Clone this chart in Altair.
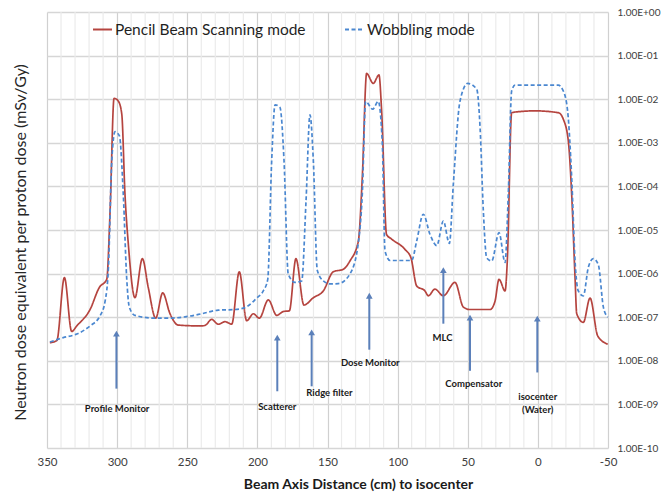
import altair as alt
import pandas as pd

# ---------------- data ----------------
pbs_x = [348, 343, 337.6, 332.4, 328.8, 319.3, 312.7, 307.4, 305, 302.2, 299.2, 296.7,
         294.4, 292, 287.3, 282, 277.8, 272.5, 267.5, 262.3, 256.4, 239.7, 236.9, 232.6,
         227.9, 223.1, 218.3, 212.9, 207.6, 202.9, 198.6, 192.2, 186.2, 181.5, 177.2,
         172.5, 166.8, 160.1, 153, 145.9, 138.7, 134, 128, 125.2, 122.1, 117.4, 113.3,
         111.4, 107.9, 104.3, 94.8, 90.5, 86.4, 80.5, 78.1, 73.4, 67.4, 59.1, 53.1, 48.4,
         34.1, 30.6, 27.7, 23.4, 21.8, 18.7, 12.8, 2.1, -14.6, -18.1, -21.7, -24.1, -26.5,
         -27.7, -32.4, -37.2, -42.7, -49.8]
pbs_y = [2.6e-8, 2.9e-8, 8.1e-7, 4.7e-8, 6.3e-8, 1.5e-7, 4.8e-7, 7.4e-7, 2.8e-5, 1.05e-2,
         9.1e-3, 4.6e-3, 6.6e-5, 4.7e-6, 2.8e-7, 2.2e-6, 4.8e-7, 9.5e-8, 3.6e-7, 1.2e-7,
         6.6e-8, 6.3e-8, 6.6e-8, 8.9e-8, 6.9e-8, 7.9e-8, 6.9e-8, 1.1e-6, 8.3e-8, 1.2e-7,
         9.5e-8, 2.5e-7, 1.1e-7, 1.35e-7, 1.4e-7, 2.2e-6, 1.9e-7, 2.8e-7, 4.0e-7, 1.1e-6,
         1.26e-6, 1.95e-6, 5.6e-6, 1.6e-4, 3.9e-2, 2.3e-2, 3.6e-2, 5.4e-3, 7.9e-6, 6.2e-6,
         3.6e-6, 2.3e-6, 5.2e-7, 4.0e-7, 3.1e-7, 4.4e-7, 3.1e-7, 6.3e-7, 1.7e-7, 1.5e-7,
         1.5e-7, 2.3e-7, 7.4e-7, 4.0e-7, 1.95e-6, 4.9e-3, 5.2e-3, 5.4e-3, 4.9e-3, 3.5e-3,
         1.1e-3, 6.6e-5, 8.1e-7, 1.2e-7, 7.6e-8, 2.75e-7, 3.7e-8, 2.4e-8]

wob_x = [347.9, 338.4, 328.8, 319.3, 312.2, 308.6, 306.2, 303.8, 301.5, 298.4, 295.6, 293.2,
         291.3, 287.3, 273, 263.5, 251.6, 239.7, 227.9, 215.9, 207.6, 200.5, 195.8, 192.6,
         189.8, 187.4, 183.9, 181, 178, 173.2, 168.4, 165.3, 162.5, 160.1, 157.3, 153,
         148.2, 142.3, 134, 128, 125.2, 122.8, 117.8, 113.8, 110.9, 109, 105.4, 90, 86.4,
         81.7, 76.9, 72.1, 67.4, 63.1, 60.3, 55.5, 50, 43.6, 41.2, 38.9, 36.5, 32.9, 27.7,
         23.4, 21.1, 18.7, 16.3, -14.6, -18.1, -21.2, -24.1, -26.5, -28.8, -32.4, -36,
         -39.5, -43.1, -46.7, -49.8]
wob_y = [2.7e-8, 3.4e-8, 4.1e-8, 6.3e-8, 1.07e-7, 2.3e-7, 1.4e-6, 3.9e-4, 1.8e-3, 1.45e-3,
         6.6e-5, 8.1e-7, 1.7e-7, 1.1e-7, 9.5e-8, 9.5e-8, 1.02e-7, 1.2e-7, 1.45e-7, 1.5e-7,
         1.74e-7, 2.75e-7, 4.0e-7, 7.4e-7, 3.9e-4, 7.4e-3, 6.5e-3, 3.9e-4, 9.8e-7, 6.3e-7,
         6.8e-7, 4.7e-5, 4.4e-3, 3.9e-4, 1.2e-6, 6.8e-7, 5.8e-7, 5.9e-7, 9.8e-7, 5.1e-6,
         6.6e-5, 8.9e-3, 5.9e-3, 8.9e-3, 9.3e-4, 3.3e-6, 2.0e-6, 2.0e-6, 5.6e-6, 2.3e-5,
         7.9e-6, 4.4e-6, 1.6e-5, 4.9e-6, 1.1e-4, 9.1e-3, 2.3e-2, 1.7e-2, 2.2e-3, 2.8e-5,
         2.3e-6, 1.95e-6, 8.7e-6, 1.8e-6, 6.6e-5, 1.55e-2, 2.1e-2, 2.1e-2, 1.55e-2, 5.4e-3,
         1.6e-4, 1.95e-6, 4.0e-7, 3.1e-7, 1.4e-6, 2.2e-6, 1.6e-6, 1.7e-7, 1.0e-7]

series_names = ["Pencil Beam Scanning mode", "Wobbling mode"]
series_colors = ["#B5443F", "#4A87D0"]
series_dash = [[1, 0], [4, 2.5]]

arrow_x = [300.5, 185.8, 161.3, 120.2, 67.4, 48.4, 0.4]
arrow_tip = [4.2e-8, 3.4e-8, 4.5e-8, 3.1e-7, 1.2e-6, 9.8e-8, 9.3e-8]
arrow_base = [2.3e-9, 2.0e-9, 2.6e-9, 1.8e-8, 7.1e-8, 5.9e-9, 5.4e-9]

label_text = ["Profile Monitor", "Scatterer", "Ridge filter", "Dose Monitor", "MLC",
              "Compensator", "isocenter", "(Water)"]
label_x = [300, 185.8, 148.6, 119.5, 68, 45.7, 0.1, 0.1]
label_y = [7.9e-10, 8.9e-10, 1.8e-9, 9.1e-9, 3.4e-8, 3.0e-9, 1.45e-9, 7.4e-10]

x_major = [350, 300, 250, 200, 150, 100, 50, 0, -50]
x_minor = [v for v in range(-40, 350, 10) if v % 50 != 0]
y_ticks = [1e-10, 1e-9, 1e-8, 1e-7, 1e-6, 1e-5, 1e-4, 1e-3, 1e-2, 1e-1, 1.0]

# ---------------- tables ----------------
lines_df = pd.concat([
    pd.DataFrame({"x": pbs_x, "y": pbs_y, "series": series_names[0], "order": range(len(pbs_x))}),
    pd.DataFrame({"x": wob_x, "y": wob_y, "series": series_names[1], "order": range(len(wob_x))}),
])
arrows_df = pd.DataFrame({"x": arrow_x, "tip": arrow_tip, "base": arrow_base})
labels_df = pd.DataFrame({"x": label_x, "y": label_y, "text": label_text})
minor_df = pd.DataFrame({"x": x_minor})

FONT = "Lato"
W, H = 561, 436

xscale = alt.Scale(domain=[-50, 350], reverse=True, nice=False, zero=False)
yscale = alt.Scale(type="log", domain=[1e-10, 1], nice=False)

xaxis = alt.Axis(
    values=x_major,
    labelExpr="'' + datum.value",
    labelFlush=False, labelOverlap=False,
    grid=True, gridColor="#d0d0d0", gridWidth=1.2,
    ticks=False, domain=False,
    labelFont=FONT, labelFontSize=11.5, labelColor="#404040", labelPadding=8,
    title="Beam Axis Distance (cm) to isocenter",
    titleFont=FONT, titleFontSize=14, titleFontWeight="bold", titleColor="#1a1a1a",
    titleX=311, titleY=36, titleAnchor="middle", titleBaseline="middle",
)
yaxis = alt.Axis(
    orient="right",
    values=y_ticks,
    labelExpr="'1.00E' + (datum.value >= 1 ? '+' : '-') + (abs(round(log(datum.value)/LN10)) < 10 ? '0' : '') + abs(round(log(datum.value)/LN10))",
    grid=True, gridColor="#d6d6d6", gridWidth=1.4,
    ticks=False, domain=False,
    labelFont=FONT, labelFontSize=10, labelColor="#404040", labelPadding=9,
    title="Neutron dose equivalent per proton dose (mSv/Gy)",
    titleFont=FONT, titleFontSize=16, titleFontWeight="normal", titleColor="#262626",
    titleAngle=270, titleX=-588, titleY=230, titleAlign="center", titleBaseline="middle",
)

minor_grid = alt.Chart(minor_df).mark_rule(color="#ebebeb", strokeWidth=1.2).encode(
    x=alt.X("x:Q", scale=xscale, axis=xaxis))

legend_cfg = dict(title=None, orient="none", legendX=45, legendY=7,
                  direction="horizontal", symbolType="stroke",
                  symbolSize=360, symbolStrokeWidth=2,
                  labelFont=FONT, labelFontSize=15.5, labelColor="#1f1f1f",
                  labelLimit=0, labelOffset=2, columnPadding=35)

lines = alt.Chart(lines_df).mark_line(interpolate="monotone", strokeWidth=1.7).encode(
    x=alt.X("x:Q", scale=xscale, axis=xaxis),
    y=alt.Y("y:Q", scale=yscale, axis=yaxis),
    color=alt.Color("series:N", scale=alt.Scale(domain=series_names, range=series_colors),
                    legend=alt.Legend(**legend_cfg)),
    strokeDash=alt.StrokeDash("series:N", scale=alt.Scale(domain=series_names, range=series_dash),
                              legend=alt.Legend(**legend_cfg)),
    order="order:Q",
)

ARROW = "#5B80BA"
shafts = alt.Chart(arrows_df).mark_rule(color=ARROW, strokeWidth=2).encode(
    x=alt.X("x:Q", scale=xscale), y=alt.Y("base:Q", scale=yscale), y2="tip:Q")
heads = alt.Chart(arrows_df).mark_point(shape="triangle-up", filled=True, color=ARROW,
                                        size=45, opacity=1).encode(
    x=alt.X("x:Q", scale=xscale), y=alt.Y("tip:Q", scale=yscale))
labels = alt.Chart(labels_df).mark_text(font=FONT, fontSize=9.5, fontWeight="bold",
                                        color="#1a1a1a", align="center", baseline="middle").encode(
    x=alt.X("x:Q", scale=xscale), y=alt.Y("y:Q", scale=yscale), text="text:N")

chart = alt.layer(minor_grid, lines, shafts, heads, labels).properties(
    width=W, height=H,
    autosize=alt.AutoSizeParams(type="none"),
    padding={"left": 47, "top": 12, "right": 60, "bottom": 48},
    background="white",
).configure_view(strokeWidth=0)

chart.save("out.html", embed_options={"renderer": "svg", "actions": False})
